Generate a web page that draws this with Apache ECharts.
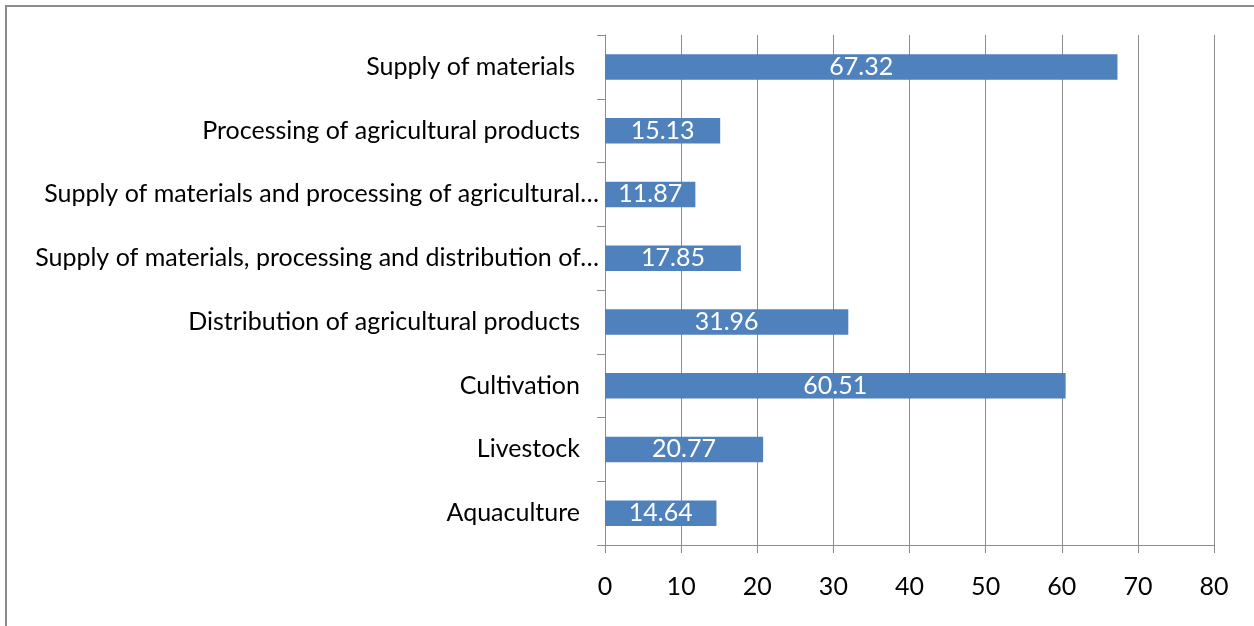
<!DOCTYPE html>
<html><head><meta charset="utf-8">
<script src="https://cdn.jsdelivr.net/npm/echarts@6/dist/echarts.min.js"></script>
<style>html,body{margin:0;padding:0;background:#fff}#c{width:1254px;height:626px}</style>
</head><body><div id="c"></div>
<script>
const categories = [
  'Aquaculture',
  'Livestock',
  'Cultivation',
  'Distribution of agricultural products',
  'Supply of materials, processing and distribution of…',
  'Supply of materials and processing of agricultural…',
  'Processing of agricultural products',
  'Supply of materials'
];
const values = [14.64, 20.77, 60.51, 31.96, 17.85, 11.87, 15.13, 67.32];
const xTicks = { min: 0, max: 80, interval: 10 };

const chart = echarts.init(document.getElementById('c'), null, {renderer: 'canvas'});
const FONT = 'Lato';
const FS = 25;
function fmtLabel(v) {
  if (v.endsWith('…')) return '{t|' + v + '}';
  if (v === 'Supply of materials') return '{s|' + v + '}';
  return '{n|' + v + '}';
}
chart.setOption({
  animation: false,
  backgroundColor: '#fff',
  graphic: [{
    type: 'polyline',
    shape: { points: [[6, 640], [6, 6], [1270, 6]] },
    style: { stroke: '#8c8c8c', lineWidth: 2, fill: null }
  }],
  grid: { left: 605, right: 40, top: 35, bottom: 81, containLabel: false },
  xAxis: {
    type: 'value', min: xTicks.min, max: xTicks.max, interval: xTicks.interval,
    axisLine: { show: true, lineStyle: { color: '#8c8c8c', width: 1 } },
    axisTick: { show: true, length: 8, lineStyle: { color: '#8c8c8c' } },
    axisLabel: { color: '#000', fontFamily: FONT, fontSize: FS, margin: 29 },
    splitLine: { show: true, lineStyle: { color: '#8c8c8c', width: 1 } }
  },
  yAxis: {
    type: 'category', data: categories,
    axisLine: { show: true, lineStyle: { color: '#8c8c8c', width: 1 } },
    axisTick: { show: true, length: 8, alignWithLabel: false, lineStyle: { color: '#8c8c8c' } },
    axisLabel: {
      color: '#000', fontFamily: FONT, fontSize: FS, margin: 6, interval: 0,
      formatter: fmtLabel,
      rich: {
        t: { fontFamily: FONT, fontSize: FS, color: '#000' },
        n: { fontFamily: FONT, fontSize: FS, color: '#000', padding: [0, 19, 0, 0] },
        s: { fontFamily: FONT, fontSize: FS, color: '#000', padding: [0, 24, 0, 0] }
      }
    },
    splitLine: { show: false }
  },
  series: [{
    type: 'bar', data: values, barWidth: '40%',
    itemStyle: { color: '#4F81BD' },
    label: { show: true, position: 'inside', color: '#fff', fontFamily: FONT, fontSize: FS,
      formatter: p => p.value.toFixed(2) }
  }]
});
</script></body></html>
